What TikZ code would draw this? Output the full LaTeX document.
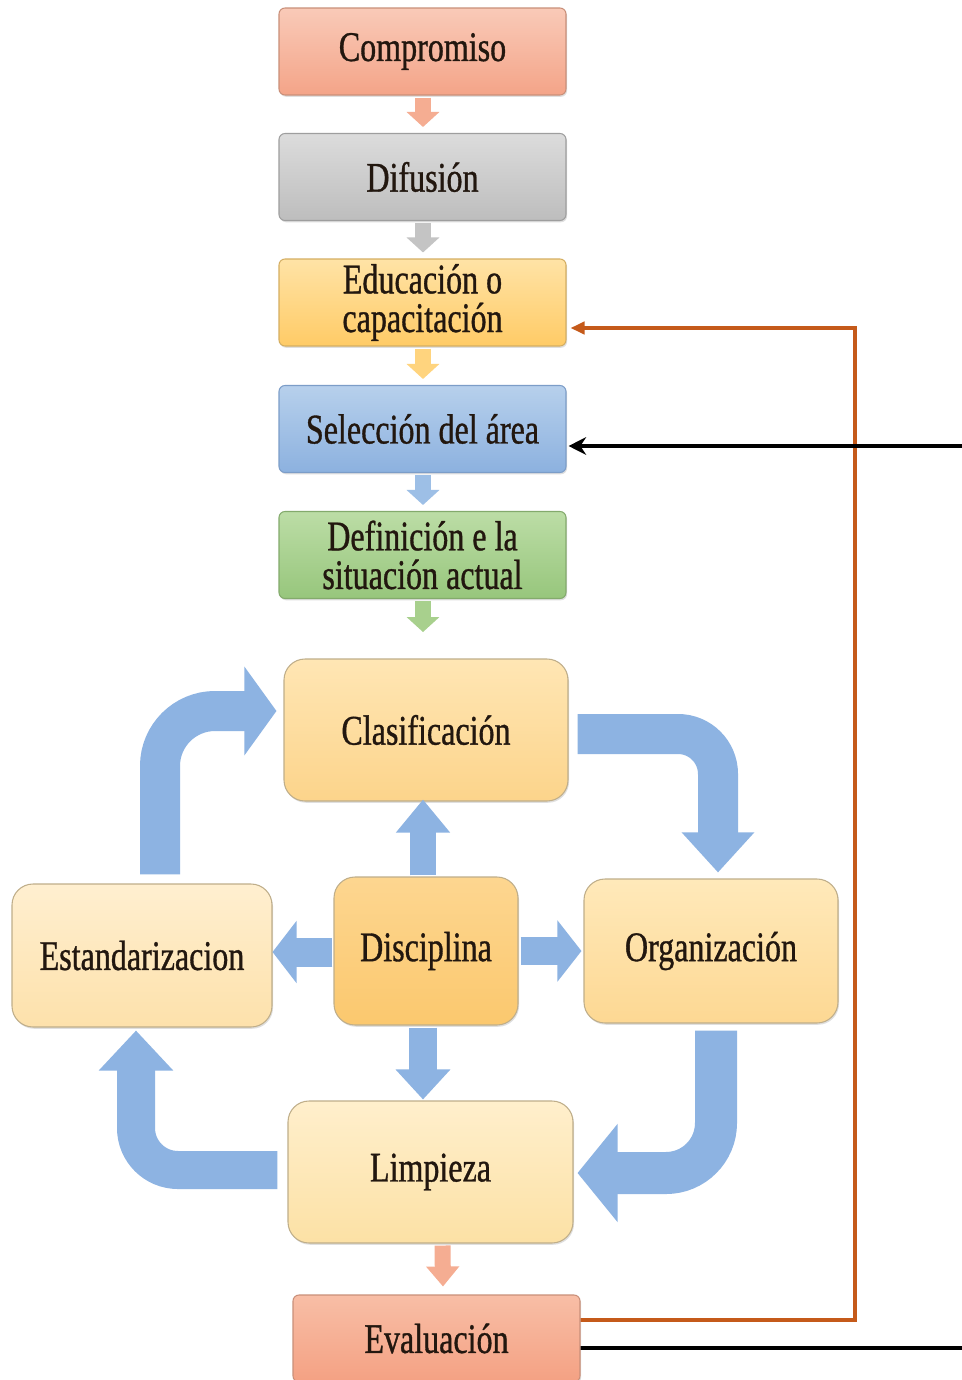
\documentclass[tikz,border=0pt]{standalone}
\usepackage{fontspec}
\setmainfont{Liberation Serif}[FakeStretch=0.76,FakeBold=0.8]
\usetikzlibrary{arrows.meta,calc,shadows}
\newlength\pxu
\setlength\pxu{0.02cm}
% text and border colours
\definecolor{txt}{HTML}{22170F}
\definecolor{compT}{HTML}{F9CAB8}\definecolor{compB}{HTML}{F4A488}\definecolor{compD}{HTML}{C98F79}
\definecolor{difT}{HTML}{DCDCDC}\definecolor{difB}{HTML}{BDBDBD}\definecolor{difD}{HTML}{9E9E9E}
\definecolor{eduT}{HTML}{FFE3A6}\definecolor{eduB}{HTML}{FFCB66}\definecolor{eduD}{HTML}{D4AE62}
\definecolor{selT}{HTML}{B7D0EC}\definecolor{selB}{HTML}{8CB1DF}\definecolor{selD}{HTML}{7C9DC8}
\definecolor{defT}{HTML}{BCDDA6}\definecolor{defB}{HTML}{97C67C}\definecolor{defD}{HTML}{83AA6C}
\definecolor{clasT}{HTML}{FFE6B4}\definecolor{clasB}{HTML}{FCD48B}
\definecolor{discT}{HTML}{FDD690}\definecolor{discB}{HTML}{FBC86E}
\definecolor{orgT}{HTML}{FFE9BA}\definecolor{orgB}{HTML}{FDD893}
\definecolor{estT}{HTML}{FFEFD0}\definecolor{estB}{HTML}{FDE1AB}
\definecolor{limT}{HTML}{FFEFCC}\definecolor{limB}{HTML}{FCE1A5}
\definecolor{evalT}{HTML}{F8BEA6}\definecolor{evalB}{HTML}{F4A183}
\definecolor{cycD}{HTML}{BFAE8A}
% connector colours
\definecolor{blk}{HTML}{8DB3E2}
\definecolor{compA}{HTML}{F5AD92}
\definecolor{difA}{HTML}{C4C4C4}
\definecolor{eduA}{HTML}{FFD47E}
\definecolor{selA}{HTML}{9DBFE6}
\definecolor{defA}{HTML}{A8D08D}
\definecolor{fbOrange}{HTML}{C55A1A}
\begin{document}
\begin{tikzpicture}[x=0.02cm,y=-0.02cm,
  box/.style={rectangle, align=center, text=txt, inner sep=0pt,
    font=\fontsize{24}{22}\selectfont, line width=0.6pt,
    drop shadow={opacity=0.25, shadow xshift=0.6pt, shadow yshift=-1pt}},
  topbox/.style={box, rounded corners=0.12cm, minimum width=287*\pxu, minimum height=87*\pxu},
  cycbox/.style={box, draw=cycD, rounded corners=0.42cm},
  smallarr/.style={line width=16*\pxu, -{Triangle[width=0.64cm,length=0.3cm]}},
  blkarrow/.style={blk, line width=#1*\pxu},
  fbline/.style={line width=2.1pt}
]
\fill[white] (0,0) rectangle (962,1380);
\useasboundingbox (0,0) rectangle (962,1380);

% preparation steps
\node[topbox, draw=compD, top color=compT, bottom color=compB] (comp) at (422.5,51.5) {Compromiso};
\node[topbox, draw=difD, top color=difT, bottom color=difB] (dif) at (422.5,177) {Difusión};
\node[topbox, draw=eduD, top color=eduT, bottom color=eduB] (edu) at (422.5,302.5) {Educación o\\capacitación};
\node[topbox, draw=selD, top color=selT, bottom color=selB] (sel) at (422.5,429) {Selección del área};
\node[topbox, draw=defD, top color=defT, bottom color=defB] (def) at (422.5,555) {Definición e la\\situación actual};

% the 5S cycle
\node[cycbox, minimum width=284*\pxu, minimum height=142*\pxu, top color=clasT, bottom color=clasB] (clas) at (426,730) {Clasificación};
\node[cycbox, minimum width=184*\pxu, minimum height=148*\pxu, top color=discT, bottom color=discB] (disc) at (426,951) {Disciplina};
\node[cycbox, minimum width=254*\pxu, minimum height=144*\pxu, top color=orgT, bottom color=orgB] (org) at (711,951) {Organización};
\node[cycbox, minimum width=260*\pxu, minimum height=143*\pxu, top color=estT, bottom color=estB] (est) at (142,955.5) {Estandarizacion};
\node[cycbox, minimum width=285*\pxu, minimum height=142*\pxu, top color=limT, bottom color=limB] (lim) at (430.5,1172) {Limpieza};
\node[topbox, draw=compD, top color=evalT, bottom color=evalB] (eval) at (436.5,1338.5) {Evaluación};

% small arrows between the preparation steps
\draw[smallarr, compA] ($(comp.south)+(0.5,2)$) -- ($(dif.north)+(0.5,-6)$);
\draw[smallarr, difA] ($(dif.south)+(0.5,2)$) -- ($(edu.north)+(0.5,-6)$);
\draw[smallarr, eduA] ($(edu.south)+(0.5,2)$) -- ($(sel.north)+(0.5,-6)$);
\draw[smallarr, selA] ($(sel.south)+(0.5,2)$) -- ($(def.north)+(0.5,-6)$);
\draw[smallarr, defA] ($(def.south)+(0.5,2)$) -- ($(def.south)+(0.5,33)$);
\draw[line width=16*\pxu, compA, -{Triangle[width=0.64cm,length=0.4cm]}]
  ($(lim.south)+(12,2)$) -- ($(eval.north)+(6.5,-8)$);

% block arrows out of Disciplina
\draw[blkarrow=26, -{Triangle[width=1.04cm,length=0.66cm]}] ($(disc.north)+(-3,-1)$) -- ($(clas.south)+(-3,-2)$);
\draw[blkarrow=29, -{Triangle[width=1.22cm,length=0.48cm]}] ($(disc.west)+(-1,1)$) -- ($(est.east)+(0,-3.5)$);
\draw[blkarrow=28, -{Triangle[width=1.2cm,length=0.48cm]}] ($(disc.east)+(2,0)$) -- ($(org.west)+(-2,0)$);
\draw[blkarrow=28, -{Triangle[width=1.06cm,length=0.6cm]}] ($(disc.south)+(-3,2)$) -- ($(lim.north)+(-7.5,-1)$);

% curved block arrows around the cycle
\draw[blkarrow=40, rounded corners=0.8cm, -{Triangle[width=1.4cm,length=0.8cm]}]
  ($(clas.east)+(9,4)$) -| ($(org.north)+(7,-6)$);
\draw[blkarrow=42, rounded corners=1.0cm, -{Triangle[width=1.92cm,length=0.8cm]}]
  ($(org.south)+(5,7)$) |- ($(lim.east)+(4,1)$);
\draw[blkarrow=38, rounded corners=0.84cm, -{Triangle[width=1.44cm,length=0.8cm]}]
  ($(lim.west)+(-10,-2)$) -| ($(est.south)+(-6,3)$);
\draw[blkarrow=40, rounded corners=1.1cm, -{Triangle[width=1.74cm,length=0.64cm]}]
  ($(est.north)+(18,-9)$) |- ($(clas.west)+(-7,-19)$);

% feedback lines from the evaluation
\draw[fbline, fbOrange, -{Triangle[length=8pt,width=7pt]}]
  ($(eval.east)+(0,-18.5)$) -- (855,1320) -- (855,328) -- ($(edu.east)+(4,25.5)$);
\draw[fbline, black, -{Stealth[length=10pt,width=10pt]}]
  ($(eval.east)+(0,9.5)$) -- (990,1348) -- (990,446) -- ($(sel.east)+(2,17)$);
\end{tikzpicture}
\end{document}
